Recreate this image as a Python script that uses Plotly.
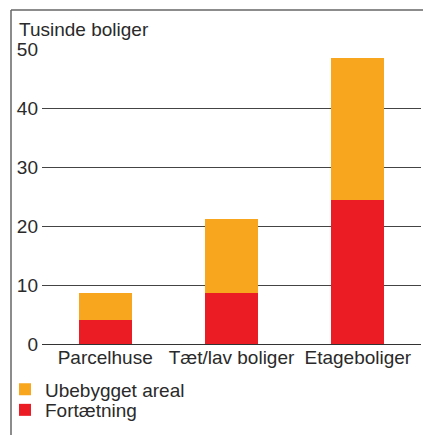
import plotly.graph_objects as go

categories = ["Parcelhuse", "Tæt/lav boliger", "Etageboliger"]
fortaetning = [4.1, 8.7, 24.4]
ubebygget = [4.5, 12.5, 24.1]
y_ticks = [0, 10, 20, 30, 40, 50]

W, H = 423, 435
L, R, T, B = 42, 2, 49, 91
pw, ph = W - L - R, H - T - B

def px_x(px):
    return (px - L) / pw

def px_y(py):
    return (H - B - py) / ph

RED = "#EC1C24"
ORANGE = "#F8A61E"
FONT = "Liberation Sans"
TXT = "#2a2a2a"
FS = 19

fig = go.Figure()
fig.add_trace(go.Bar(x=categories, y=fortaetning, name="Fortætning", legend="legend2",
                     marker=dict(color=RED, line=dict(width=0)), width=0.42))
fig.add_trace(go.Bar(x=categories, y=ubebygget, name="Ubebygget areal", legend="legend",
                     marker=dict(color=ORANGE, line=dict(width=0)), width=0.42))

def leg(center_py):
    return dict(orientation="v", xref="container", yref="container",
                x=5 / W, y=1 - center_py / H, xanchor="left", yanchor="middle",
                font=dict(size=FS, color=TXT, family=FONT),
                itemwidth=30, bgcolor="rgba(0,0,0,0)", borderwidth=0)

fig.update_layout(
    width=W, height=H,
    margin=dict(l=L, r=R, t=T, b=B, autoexpand=False),
    barmode="stack",
    plot_bgcolor="white", paper_bgcolor="white",
    font=dict(family=FONT, size=FS, color=TXT),
    showlegend=True,
    legend=leg(389.5),
    legend2=leg(410),
    xaxis=dict(showgrid=False, showline=False, ticks="", tickangle=0,
               automargin=False, tickfont=dict(size=FS, color=TXT)),
    yaxis=dict(range=[0, 50], tickvals=y_ticks, showgrid=True, gridcolor="#444",
               gridwidth=1, zeroline=True, zerolinecolor="#333", zerolinewidth=1,
               showline=False, ticks="", ticklabelstandoff=3, automargin=False,
               tickfont=dict(size=FS, color=TXT)),
    annotations=[dict(text="Tusinde boliger", xref="paper", yref="paper",
                      x=px_x(17), y=px_y(30), xanchor="left", yanchor="middle",
                      showarrow=False, font=dict(size=FS, color=TXT))],
    shapes=[
        dict(type="line", xref="paper", yref="paper", x0=px_x(11), x1=px_x(11),
             y0=px_y(10), y1=px_y(440), line=dict(color="#666", width=1.5)),
        dict(type="line", xref="paper", yref="paper", x0=px_x(11), x1=px_x(430),
             y0=px_y(10), y1=px_y(10), line=dict(color="#666", width=1.5)),
    ],
)

fig.write_html("out.html", config={"displayModeBar": False},
               post_script="document.body.style.margin='0';document.body.style.overflow='hidden';")
